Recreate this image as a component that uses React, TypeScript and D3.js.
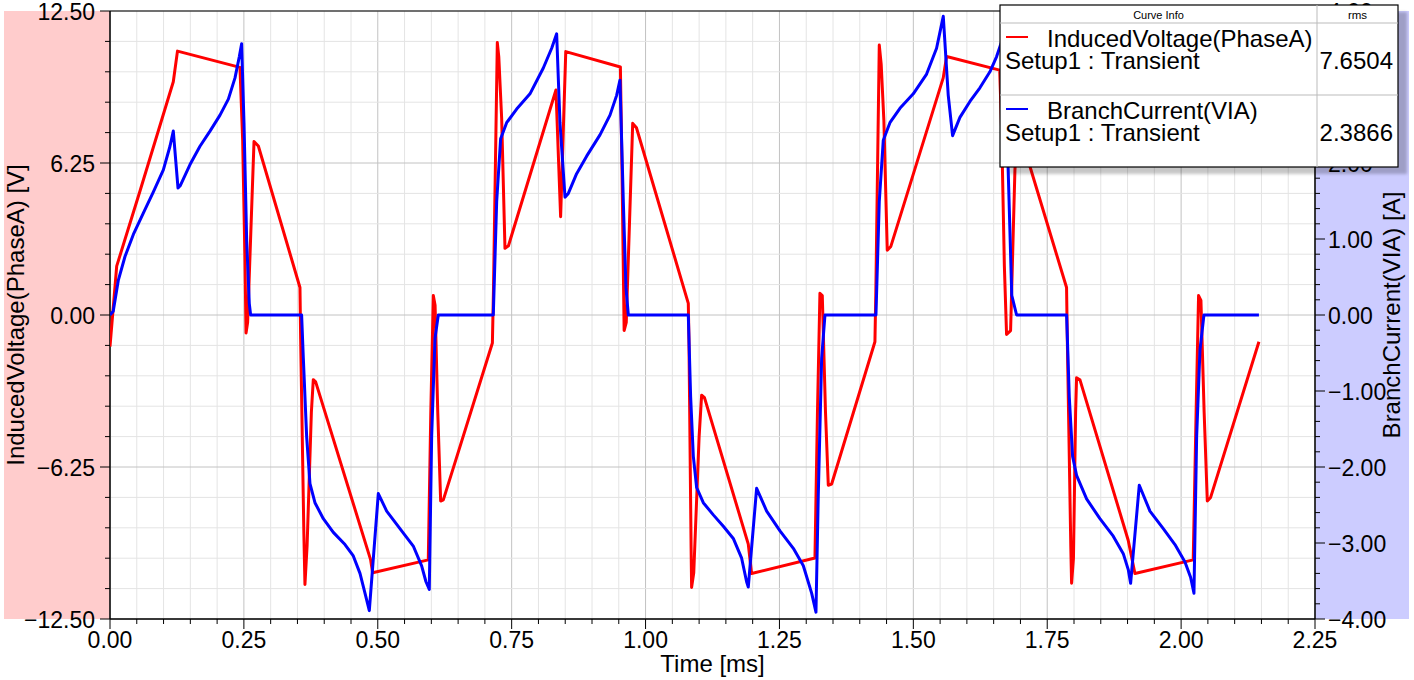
import React from "react";
import * as d3 from "d3";

// ---------- data ----------
const timeTicks = [0, 0.25, 0.5, 0.75, 1.0, 1.25, 1.5, 1.75, 2.0, 2.25];
const voltTicks = [-12.5, -6.25, 0, 6.25, 12.5];
const currTicks = [-4, -3, -2, -1, 0, 1, 2, 3, 4];

const seriesNames = ["InducedVoltage(PhaseA)", "BranchCurrent(VIA)"];
const seriesSetup = ["Setup1 : Transient", "Setup1 : Transient"];
const seriesRms = ["7.6504", "2.3866"];

// [time ms, voltage V]
const inducedVoltage: [number, number][] = [
  [0.0, -1.3], [0.0125, 2.01], [0.056, 5.1], [0.1182, 9.59], [0.126, 10.85],
  [0.2427, 10.18], [0.2477, 7.2], [0.252, 2.3], [0.254, -0.74], [0.257, -0.3],
  [0.2689, 7.13], [0.277, 6.95], [0.3547, 1.13], [0.356, -1.0], [0.362, -9.0],
  [0.364, -11.08], [0.368, -9.5], [0.376, -4.0], [0.3796, -2.66], [0.384, -2.75],
  [0.4867, -10.07], [0.4904, -10.6], [0.5943, -10.07], [0.599, -4.0], [0.6037, 0.8],
  [0.607, 0.4], [0.612, -4.0], [0.6174, -7.65], [0.6224, -7.6], [0.714, -1.15],
  [0.716, 1.0], [0.7232, 11.2], [0.726, 10.6], [0.7313, 8.1], [0.7375, 2.74],
  [0.744, 2.85], [0.8327, 9.25], [0.8414, 4.04], [0.851, 10.83], [0.953, 10.2],
  [0.956, 6.0], [0.96, -0.64], [0.964, -0.3], [0.976, 7.88], [0.983, 7.7],
  [1.0798, 0.48], [1.081, -1.0], [1.085, -9.5], [1.086, -11.2], [1.09, -10.6],
  [1.1, -5.0], [1.1047, -3.3], [1.11, -3.4], [1.1918, -9.42], [1.198, -10.63],
  [1.3163, -9.99], [1.321, -4.0], [1.3256, 0.89], [1.33, 0.8], [1.336, -4.0],
  [1.3412, -7.0], [1.3475, -6.95], [1.4283, -1.1], [1.43, 1.0], [1.4364, 11.1],
  [1.44, 10.3], [1.445, 8.0], [1.4513, 2.66], [1.458, 2.82], [1.5558, 9.75],
  [1.5621, 10.63], [1.6613, 10.07], [1.665, 7.5], [1.67, 2.0], [1.6741, -0.8],
  [1.6816, -0.64], [1.6897, 5.96], [1.694, 7.6], [1.7, 7.4], [1.7861, 1.13],
  [1.7875, -1.0], [1.794, -9.5], [1.7955, -11.03], [1.799, -10.0], [1.803, -4.0],
  [1.8048, -2.58], [1.811, -2.66], [1.9012, -9.26], [1.9138, -10.63], [2.0226, -10.07],
  [2.028, -4.0], [2.0326, 0.8], [2.037, 0.6], [2.043, -4.0], [2.0489, -7.65],
  [2.0551, -7.5], [2.1453, -1.1],
];

// [time ms, current A]
const branchCurrent: [number, number][] = [
  [0.0, 0.0], [0.006, 0.05], [0.0156, 0.46], [0.028, 0.77], [0.0436, 1.06],
  [0.0622, 1.34], [0.081, 1.62], [0.0996, 1.91], [0.112, 2.22], [0.1182, 2.42],
  [0.127, 1.67], [0.131, 1.7], [0.1494, 1.98], [0.168, 2.22], [0.1867, 2.42],
  [0.2054, 2.63], [0.221, 2.84], [0.2334, 3.12], [0.2415, 3.4], [0.2458, 3.57],
  [0.2502, 2.53], [0.2552, 0.98], [0.2601, 0.15], [0.2626, 0.0], [0.3578, 0.0],
  [0.361, -0.57], [0.3672, -1.6], [0.3734, -2.22], [0.3827, -2.47], [0.3983, -2.68],
  [0.417, -2.86], [0.4388, -3.02], [0.4543, -3.17], [0.4668, -3.4], [0.4761, -3.66],
  [0.4842, -3.89], [0.501, -2.35], [0.5166, -2.58], [0.5414, -2.81], [0.5663, -3.04],
  [0.5819, -3.3], [0.59, -3.51], [0.5962, -3.61], [0.6006, -1.6], [0.6068, -0.31],
  [0.613, 0.0], [0.7157, 0.0], [0.722, 1.49], [0.7294, 2.32], [0.7406, 2.53],
  [0.7593, 2.71], [0.7842, 2.91], [0.8091, 3.25], [0.8247, 3.51], [0.834, 3.7],
  [0.8402, 2.53], [0.8496, 1.55], [0.8558, 1.6], [0.8713, 1.86], [0.89, 2.09],
  [0.9149, 2.37], [0.9336, 2.63], [0.946, 2.89], [0.9522, 3.09], [0.9585, 1.49],
  [0.9634, 0.36], [0.9678, 0.0], [1.0798, 0.0], [1.0842, -1.08], [1.0892, -1.86],
  [1.0954, -2.27], [1.1078, -2.47], [1.1265, -2.63], [1.1452, -2.78], [1.1638, -2.94],
  [1.1794, -3.2], [1.1887, -3.51], [1.1918, -3.58], [1.2074, -2.28], [1.2261, -2.58],
  [1.251, -2.84], [1.2759, -3.07], [1.2946, -3.3], [1.3101, -3.66], [1.3182, -3.91],
  [1.3225, -2.37], [1.3288, -0.57], [1.335, 0.0], [1.4302, 0.0], [1.4364, 1.49],
  [1.4439, 2.3], [1.4563, 2.53], [1.475, 2.72], [1.4999, 2.91], [1.5248, 3.17],
  [1.5434, 3.51], [1.5559, 3.93], [1.5652, 2.89], [1.5733, 2.36], [1.587, 2.6],
  [1.6057, 2.81], [1.6243, 2.99], [1.643, 3.2], [1.6555, 3.4], [1.665, 3.6],
  [1.671, 3.75], [1.677, 1.93], [1.6838, 0.26], [1.6928, 0.0], [1.7862, 0.0],
  [1.7912, -1.08], [1.7974, -1.86], [1.8048, -2.11], [1.8235, -2.42], [1.8484, -2.68],
  [1.8733, -2.91], [1.892, -3.14], [1.9013, -3.35], [1.9057, -3.53], [1.9219, -2.24],
  [1.9418, -2.58], [1.9667, -2.81], [1.9885, -3.02], [2.0072, -3.25], [2.0177, -3.45],
  [2.024, -3.66], [2.029, -1.6], [2.0352, -0.46], [2.0426, 0.0], [2.1453, 0.0],
];

// ---------- layout ----------
const W = 1414;
const H = 680;
const L = 110, R = 1315, T = 11, B = 619;
const FONT = "'Liberation Sans', Arial, sans-serif";

export default function App() {
  const x = d3.scaleLinear().domain([0, 2.25]).range([L, R]);
  const yL = d3.scaleLinear().domain([-12.5, 12.5]).range([B, T]);
  const yR = d3.scaleLinear().domain([-4, 4]).range([B, T]);
  const fmt = d3.format(".2f");

  const timeMinor = d3.range(0, 2.2501, 0.05);
  const voltMinor = d3.range(-12.5, 12.501, 1.25);
  const currMinor = d3.range(-4, 4.001, 0.2);

  const lineV = d3.line<[number, number]>().x((d) => x(d[0])).y((d) => yL(d[1]));
  const lineI = d3.line<[number, number]>().x((d) => x(d[0])).y((d) => yR(d[1]));

  const isMajorT = (t: number) => timeTicks.some((m) => Math.abs(m - t) < 1e-6);
  const isMajorV = (v: number) => voltTicks.some((m) => Math.abs(m - v) < 1e-6);
  const isMajorI = (v: number) => currTicks.some((m) => Math.abs(m - v) < 1e-6);

  const LX = 1000, LY = 5, LW = 398, LH = 162, colX = 1317;

  return (
    <svg
      width={W}
      height={H}
      style={{ position: "absolute", left: 0, top: 0, background: "#fff" }}
      fontFamily={FONT}
    >
      <defs>
        <clipPath id="plotClip">
          <rect x={L} y={T} width={R - L} height={B - T} />
        </clipPath>
        <filter id="shadowBlur" x="-10%" y="-10%" width="120%" height="120%">
          <feGaussianBlur stdDeviation="1.5" />
        </filter>
      </defs>

      {/* axis backgrounds */}
      <rect x={4} y={T} width={L - 4} height={B - T} fill="#ffcccc" />
      <rect x={R} y={T} width={1409 - R} height={B - T} fill="#ccccff" />

      {/* grid */}
      <g>
        {timeMinor.map((t, i) => (
          <line key={"gx" + i} x1={x(t)} x2={x(t)} y1={T} y2={B}
            stroke={isMajorT(t) ? "#c2c2c2" : "#e4e4e4"} strokeWidth={1} />
        ))}
        {voltMinor.map((v, i) => (
          <line key={"gy" + i} x1={L} x2={R} y1={yL(v)} y2={yL(v)}
            stroke={isMajorV(v) ? "#c2c2c2" : "#e4e4e4"} strokeWidth={1} />
        ))}
      </g>

      {/* frame / axes */}
      <line x1={L} x2={R} y1={T} y2={T} stroke="#000" strokeWidth={1.2} />
      <line x1={L} x2={R} y1={B} y2={B} stroke="#000" strokeWidth={1.5} />
      <line x1={L} x2={L} y1={T} y2={B} stroke="#000" strokeWidth={1.5} />
      <line x1={R} x2={R} y1={T} y2={B} stroke="#000" strokeWidth={1.5} />

      {/* bottom ticks */}
      {timeMinor.map((t, i) => (
        <line key={"tx" + i} x1={x(t)} x2={x(t)} y1={B} y2={B + (isMajorT(t) ? 10 : 5)}
          stroke="#000" strokeWidth={1} />
      ))}
      {timeTicks.map((t, i) => (
        <text key={"lx" + i} x={x(t)} y={648} fontSize={23} textAnchor="middle" fill="#000">
          {fmt(t)}
        </text>
      ))}

      {/* left ticks */}
      {voltMinor.map((v, i) => (
        <line key={"tyl" + i} x1={L - (isMajorV(v) ? 10 : 5)} x2={L} y1={yL(v)} y2={yL(v)}
          stroke="#000" strokeWidth={1} />
      ))}
      {voltTicks.map((v, i) => (
        <text key={"lyl" + i} x={95} y={yL(v) + 8.5} fontSize={23} textAnchor="end" fill="#000">
          {fmt(v)}
        </text>
      ))}

      {/* right ticks */}
      {currMinor.map((v, i) => (
        <line key={"tyr" + i} x1={R} x2={R + (isMajorI(v) ? 10 : 5)} y1={yR(v)} y2={yR(v)}
          stroke="#000" strokeWidth={1} />
      ))}
      {currTicks.map((v, i) => (
        <text key={"lyr" + i} x={1328} y={yR(v) + 8.5} fontSize={23} textAnchor="start" fill="#000">
          {fmt(v)}
        </text>
      ))}

      {/* axis titles */}
      <text x={712.5} y={672} fontSize={24} textAnchor="middle" fill="#000">Time [ms]</text>
      <text transform={`translate(24,${(T + B) / 2}) rotate(-90)`} fontSize={24}
        textAnchor="middle" fill="#000">InducedVoltage(PhaseA) [V]</text>
      <text transform={`translate(1400,${(T + B) / 2}) rotate(-90)`} fontSize={24}
        textAnchor="middle" fill="#000">BranchCurrent(VIA) [A]</text>

      {/* curves */}
      <g clipPath="url(#plotClip)">
        <path d={lineV(inducedVoltage) || ""} fill="none" stroke="#ff0000" strokeWidth={3}
          strokeLinejoin="round" />
        <path d={lineI(branchCurrent) || ""} fill="none" stroke="#0000ff" strokeWidth={3}
          strokeLinejoin="round" />
      </g>

      {/* legend */}
      <rect x={LX + 9} y={LY + 7} width={LW} height={LH} fill="#000" opacity={0.22}
        filter="url(#shadowBlur)" />
      <rect x={LX} y={LY} width={LW} height={LH} fill="#fff" stroke="#000" strokeWidth={1.2} />
      <line x1={LX} x2={LX + LW} y1={23} y2={23} stroke="#bbb" strokeWidth={1} />
      <line x1={LX} x2={LX + LW} y1={95} y2={95} stroke="#bbb" strokeWidth={1} />
      <line x1={colX} x2={colX} y1={LY} y2={LY + LH} stroke="#bbb" strokeWidth={1} />
      <text x={(LX + colX) / 2} y={18.5} fontSize={11} textAnchor="middle" fill="#000">Curve Info</text>
      <text x={(colX + LX + LW) / 2} y={18.5} fontSize={11.5} textAnchor="middle" fill="#000">rms</text>

      {seriesNames.map((name, i) => {
        const top = 23 + i * 72;
        const color = i === 0 ? "#ff0000" : "#0000ff";
        return (
          <g key={"leg" + i}>
            <line x1={1006} x2={1028} y1={top + 14} y2={top + 14} stroke={color} strokeWidth={2} />
            <text x={1047} y={top + 24} fontSize={24} fill="#000">{name}</text>
            <text x={1005} y={top + 46} fontSize={24} fill="#000">{seriesSetup[i]}</text>
            <text x={1393} y={top + 46} fontSize={24} textAnchor="end" fill="#000">{seriesRms[i]}</text>
          </g>
        );
      })}
    </svg>
  );
}
